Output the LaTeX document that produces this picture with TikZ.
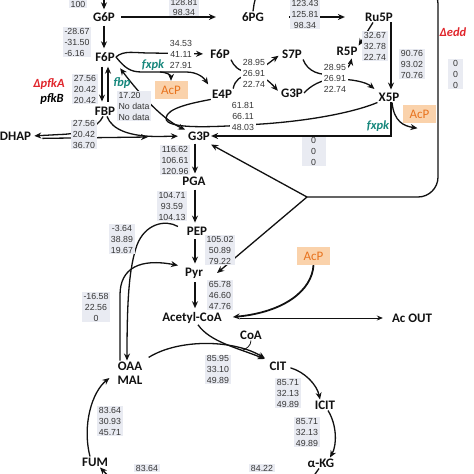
\documentclass[tikz,border=0pt]{standalone}
\usepackage{fontspec}
\setmainfont{Liberation Sans}
\newfontfamily\metfont{Carlito}
\usetikzlibrary{arrows.meta}
\definecolor{fluxInk}{HTML}{111111}
\definecolor{fluxBox}{HTML}{E9EBF2}
\definecolor{fluxRed}{HTML}{E0262C}
\definecolor{fluxTeal}{HTML}{16877C}
\definecolor{fluxOrange}{HTML}{E8731E}
\definecolor{fluxPeach}{HTML}{FAD2AB}
\tikzset{
  flux met/.style={font=\metfont\bfseries\fontsize{13}{14}\selectfont, text=fluxInk, inner sep=1pt, align=center},
  flux val/.style={fill=fluxBox, font=\fontsize{8.8}{11}\selectfont, text=fluxInk!85, align=center, inner xsep=1.5pt, inner ysep=0.5pt},
  flux bare/.style={flux val, fill=white},
  flux gene/.style={font=\metfont\bfseries\itshape\fontsize{12.5}{12.5}\selectfont, inner sep=0pt},
  flux acp/.style={fill=fluxPeach, text=fluxOrange, font=\metfont\fontsize{13}{13}\selectfont, minimum width=33pt, minimum height=18pt, inner sep=0pt},
  flux line/.style={draw=fluxInk, line width=1.3pt},
  flux arrow/.style={flux line, -{Stealth[length=7pt,width=6pt]}},
}

\begin{document}
\begin{tikzpicture}[x=1pt,y=-1pt]
  \useasboundingbox (0,0) rectangle (474,474);
  \clip (0,0) rectangle (474,474);
  % Metabolites
  \node[flux met] (G6P) at (104,17) {G6P};
  \node[flux met] (6PG) at (253,17) {6PG};
  \node[flux met] (Ru5P) at (379,17) {Ru5P};
  \node[flux met] (F6P) at (105,57) {F6P};
  \node[flux met] (FBP) at (105,111) {FBP};
  \node[flux met] (DHAP) at (15.5,136) {DHAP};
  \node[flux met] (G3P) at (199,136) {G3P};
  \node[flux met] (F6Pb) at (220,54) {F6P};
  \node[flux met] (E4P) at (222,94) {E4P};
  \node[flux met] (S7P) at (292,54) {S7P};
  \node[flux met] (G3Pb) at (292,93) {G3P};
  \node[flux met] (R5P) at (347,51) {R5P};
  \node[flux met] (X5P) at (389,97) {X5P};
  \node[flux met] (PGA) at (194,181) {PGA};
  \node[flux met] (PEP) at (197,231) {PEP};
  \node[flux met] (Pyr) at (194,273) {Pyr};
  \node[flux met] (AcCoA) at (192,318) {Acetyl-CoA};
  \node[flux met] (AcOUT) at (412,318) {Ac OUT};
  \node[flux met] (CoA) at (251,335) {CoA};
  \node[flux met] (CIT) at (278,366) {CIT};
  \node[flux met] (ICIT) at (325,405) {ICIT};
  \node[flux met] (aKG) at (321,463) {α-KG};
  \node[flux met] (OAA) at (130,373) {OAA\\MAL};
  \node[flux met] (FUM) at (95,462) {FUM};
  \node[flux acp] (AcP1) at (171,90) {AcP};
  \node[flux acp] (AcP2) at (419.5,114) {AcP};
  \node[flux acp] (AcP3) at (313.5,256) {AcP};
  \coordinate (g6pIn) at (104,-12);
  \coordinate (eddFork) at (307,197);
  \coordinate (tpiEnd) at (148,137);
  \coordinate (fxpkFork) at (160,72);
  \coordinate (tktApex) at (166,118);
  \coordinate (coaJoin) at (242,350.5);
  \coordinate (akgOut) at (308,484);
  \coordinate (fumIn) at (118,486);

  % Entner-Doudoroff frame
  \draw[flux line, rounded corners=20pt] (6PG.north) -- (257,-16) -- (438,-16) -- (438,197) -- (eddFork);
  \draw[flux arrow] (eddFork) -- ([yshift=-3pt]G3P.south east);
  \draw[flux arrow] (eddFork) -- ([xshift=13pt]Pyr.east);

  % Upper glycolysis and oxidative branch
  \draw[flux arrow, shorten >=2pt] (g6pIn) -- (G6P.north);
  \draw[flux arrow, shorten <=5pt, shorten >=25pt] (G6P.east) -- (6PG.west);
  \draw[flux arrow, shorten <=24pt, shorten >=19pt] (6PG.east) -- (Ru5P.west);
  \draw[flux arrow, shorten <=3pt, shorten >=3pt] (G6P.south) -- (G6P.south |- F6P.north);
  \draw[flux arrow, shorten <=4pt, shorten >=4pt] ([xshift=-3pt]F6P.south) -- ([xshift=-3pt]FBP.north);
  \draw[flux arrow, shorten <=4pt, shorten >=4pt] ([xshift=3pt]FBP.north) -- ([xshift=3pt]F6P.south);
  \draw[flux arrow, shorten >=2pt] ([xshift=-2pt]FBP.south) .. controls (98,128) and (80,134) .. (60,134.5) -- (DHAP.east);
  \draw[flux arrow, shorten >=9pt] ([xshift=2pt]FBP.south) .. controls (112,130) and (130,136.5) .. (158,136.5) -- (G3P.west);
  \draw[flux arrow, shorten <=10pt] ([yshift=-2.5pt]DHAP.east) -- (tpiEnd);

  % fxpk and non-oxidative pentose phosphate
  \draw[flux arrow, shorten >=6pt] (F6P.east) .. controls (124,50) and (134,53) .. (150,53) -- (F6Pb.west);
  \draw[flux arrow, shorten >=5pt] (F6P.east) .. controls (125,68) and (130,72) .. (142,72) -- (186,72) .. controls (198,72) and (204,78) .. (E4P.north west);
  \draw[flux arrow] (fxpkFork) .. controls (166,72) and (171,75) .. (AcP1.north);
  \draw[flux arrow, shorten >=3pt] (F6Pb.south east) .. controls (234,66) and (238,71) .. (248,72) .. controls (258,73) and (270,62) .. (S7P.west);
  \draw[flux arrow, shorten >=3pt] (E4P.north east) .. controls (235,80) and (240,76) .. (250,75) .. controls (262,74) and (270,82) .. (G3Pb.west);
  \draw[flux arrow, shorten >=2pt] (S7P.south east) .. controls (308,72) and (320,76) .. (335,74) .. controls (344,72) and (350,66) .. ([xshift=5pt]R5P.south);
  \draw[flux arrow, shorten >=4pt] (G3Pb.east) .. controls (310,86) and (322,79) .. (335,79) .. controls (352,79) and (366,82) .. (X5P.north west);
  \draw[flux arrow] ([xshift=-6pt]Ru5P.south) -- (R5P.north east);
  \draw[flux arrow, shorten >=2pt] ([xshift=12pt]Ru5P.south) -- ([xshift=2pt]X5P.north);
  \draw[flux arrow] ([xshift=3pt]X5P.south) .. controls (394,122) and (404,126) .. ([xshift=-2pt,yshift=-5pt]AcP2.south);
  \draw[flux arrow] ([xshift=2pt]X5P.south) |- (G3P.east);
  \draw[flux line] (E4P.south west) .. controls (192,103) and (167,108) .. (tktApex) .. controls (165,130) and (215,127) .. (262,124) .. controls (320,120) and (360,110) .. (X5P.south west);
  \draw[flux line, {Stealth[length=7pt,width=6pt]}-{Stealth[length=7pt,width=6pt]}, shorten <=7pt, shorten >=2pt] (F6P.south east) .. controls (135,88) and (160,118) .. (G3P.north west);

  % Lower glycolysis
  \draw[flux arrow, shorten <=2pt, shorten >=2pt] ([xshift=-4pt]G3P.south) -- ([xshift=1pt]PGA.north);
  \draw[flux arrow, shorten <=3pt, shorten >=3pt] ([xshift=1pt]PGA.south) -- ([xshift=-2pt]PEP.north);
  \draw[flux arrow, shorten <=3pt, shorten >=3pt] ([xshift=-2pt]PEP.south) -- ([xshift=1pt]Pyr.north);
  \draw[flux arrow, shorten <=3pt, shorten >=3pt] ([xshift=1pt]Pyr.south) -- ([xshift=3pt]AcCoA.north);
  \draw[flux arrow, shorten <=9pt] (PEP.west) .. controls (165,219) and (145,224) .. (137,245) .. controls (129,268) and (127,300) .. ([xshift=-3pt]OAA.north);
  \draw[flux arrow, shorten >=6pt] ([xshift=-10pt]OAA.north) -- (120,295) .. controls (120,268) and (140,258) .. (Pyr.north west);

  % Acetate and TCA cycle
  \draw[flux arrow, line width=1.8pt, shorten >=10pt] (AcP3.south) .. controls (312,290) and (285,312) .. (AcCoA.east);
  \draw[flux line, line width=0.9pt, -{Stealth[length=6pt,width=5pt]}, shorten <=17pt, shorten >=8pt] (AcCoA.east) -- (AcOUT.west);
  \draw[flux arrow, shorten >=4pt] ([xshift=6pt]AcCoA.south) .. controls (210,342) and (238,348) .. (CIT.north west);
  \draw[flux line, line width=0.8pt] (CoA.south) .. controls (251,346) and (246,349) .. (coaJoin);
  \draw[flux arrow, shorten <=6pt, shorten >=4pt] (OAA.north east) .. controls (180,338) and (235,340) .. (CIT.north west);
  \draw[flux arrow, shorten <=3pt] ([yshift=-1pt]CIT.east) .. controls (305,372) and (317,385) .. ([xshift=-5pt]ICIT.north);
  \draw[flux arrow] ([xshift=3pt]ICIT.south) .. controls (337,425) and (337,445) .. ([xshift=9pt]aKG.north);
  \draw[flux line] ([xshift=-2pt]aKG.south) -- (akgOut);
  \draw[flux arrow] ([xshift=-5pt]FUM.north) .. controls (82,425) and (92,392) .. ([xshift=-7pt,yshift=-5pt]OAA.west);
  \draw[flux arrow] (fumIn) -- ([xshift=5pt]FUM.south);

  % Gene labels
  \node[flux gene, text=fluxRed] (dPfkA) at (49,84) {ΔpfkA};
  \node[flux gene] (lPfkB) at (52,99) {pfkB};
  \node[flux gene, text=fluxTeal] (lFbp) at (122,83) {fbp};
  \node[flux gene, text=fluxTeal] (lFxpkA) at (153,65) {fxpk};
  \node[flux gene, text=fluxTeal] (lFxpkB) at (378,126) {fxpk};
  \node[flux gene, text=fluxRed] (dEdd) at (453,32) {Δedd};

  % Flux values
  \node[flux val] (vTopIn) at (78,4) {100};
  \node[flux val, inner ysep=0pt, font=\fontsize{8.8}{10}\selectfont] (vZwf) at (184,7.5) {128.81\\98.34};
  \node[flux val] (vGnd) at (305,14) {123.43\\125.81\\98.34};
  \node[flux val, align=left] (vPgi) at (77,42) {-28.67\\-31.50\\-6.16};
  \node[flux val] (vPfk) at (85,89) {27.56\\20.42\\20.42};
  \node[flux val, align=left] (vFbp) at (134,106) {17.20\\No data\\No data};
  \node[flux val] (vFba) at (84,134.5) {27.56\\20.42\\36.70};
  \node[flux bare] (vFxpkA) at (181,54) {34.53\\41.11\\27.91};
  \node[flux bare] (vTal) at (254,73) {28.95\\26.91\\22.74};
  \node[flux bare] (vTkt) at (335,78) {28.95\\26.91\\22.74};
  \node[flux bare] (vTktB) at (243,116) {61.81\\66.11\\48.03};
  \node[flux val, minimum width=24pt, anchor=north] (vFxpkB) at (313.5,137) {0\\0\\0};
  \node[flux val, minimum width=15pt] (vEdd) at (455.5,74) {0\\0\\0};
  \node[flux val] (vRpi) at (375,46) {32.67\\32.78\\22.74};
  \node[flux val] (vRpe) at (412,64) {90.76\\93.02\\70.76};
  \node[flux val] (vGap) at (175,160) {116.62\\106.61\\120.96};
  \node[flux val] (vEno) at (172,206) {104.71\\93.59\\104.13};
  \node[flux val] (vPyk) at (220,250) {105.02\\50.89\\79.22};
  \node[flux val] (vPdh) at (220,295) {65.78\\46.60\\47.76};
  \node[flux val] (vPpc) at (122,239) {-3.64\\38.89\\19.67};
  \node[flux val] (vMae) at (96,307) {-16.58\\22.56\\0};
  \node[flux val] (vGlt) at (218,369.5) {85.95\\33.10\\49.89};
  \node[flux val] (vAcn) at (288,393) {85.71\\32.13\\49.89};
  \node[flux val] (vIcd) at (307,432) {85.71\\32.13\\49.89};
  \node[flux val] (vFum) at (110,421) {83.64\\30.93\\45.71};
  \node[flux val] (vSdh) at (147,468) {83.64};
  \node[flux val] (vSuc) at (262,468) {84.22};
\end{tikzpicture}
\end{document}
